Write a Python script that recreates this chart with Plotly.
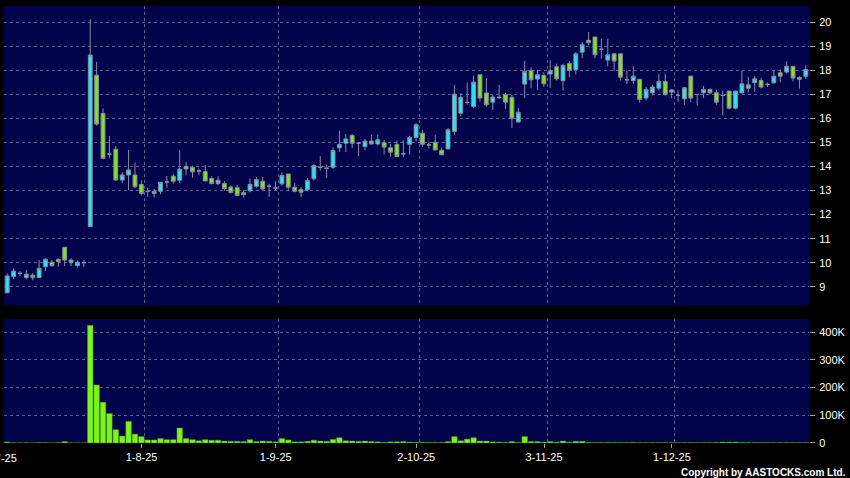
import pandas as pd
import plotly.graph_objects as go

# ---- trading calendar (HK), Jul 2 2025 - Dec 31 2025 ----
holidays = ["2025-10-01", "2025-10-07", "2025-10-29", "2025-12-25", "2025-12-26"]
dates = [d for d in pd.bdate_range("2025-07-02", "2025-12-31") if d.strftime("%Y-%m-%d") not in holidays]

opens = [8.75, 9.43, 9.56, 9.38, 9.48, 9.38, 9.83, 10.02, 10.14, 10.64,
         10.00, 9.88, 10.00, 11.50, 17.80, 16.21, 14.52, 14.72, 13.44, 13.65,
         13.65, 13.25, 12.97, 12.88, 12.97, 13.36, 13.60, 13.43, 14.01, 13.96,
         13.82, 13.79, 13.50, 13.43, 13.29, 13.15, 13.12, 12.83, 12.99, 13.18,
         13.39, 13.18, 13.11, 13.28, 13.69, 13.14, 13.04, 13.04, 13.49, 13.97,
         13.93, 13.97, 14.78, 14.97, 15.29, 14.97, 14.83, 15.06, 14.94, 14.99,
         14.78, 14.92, 14.53, 14.93, 15.21, 15.39, 14.90, 15.01, 14.68, 14.74,
         15.46, 16.22, 16.67, 16.50, 17.82, 17.06, 16.68, 16.88, 16.99, 16.88,
         15.85, 17.43, 17.99, 17.64, 17.79, 17.85, 18.15, 17.57, 18.28, 18.03,
         18.76, 19.25, 19.39, 18.88, 18.43, 18.69, 18.69, 17.61, 17.58, 17.63,
         16.85, 17.07, 17.26, 17.54, 17.10, 16.96, 16.82, 17.76, 17.00, 17.07,
         17.21, 17.07, 16.96, 17.14, 16.43, 17.07, 17.26, 17.49, 17.58, 17.42,
         17.49, 17.90, 17.93, 18.17, 17.63, 17.76]
highs = [9.55, 9.77, 9.65, 9.70, 9.56, 10.11, 10.18, 10.10, 10.18, 10.66,
         10.18, 10.08, 10.10, 20.14, 18.36, 16.42, 15.27, 14.86, 13.77, 14.69,
         14.17, 13.43, 13.12, 13.08, 13.35, 13.60, 13.68, 14.68, 14.19, 14.04,
         13.92, 14.06, 13.60, 13.60, 13.39, 13.22, 13.22, 13.01, 13.50, 13.57,
         13.57, 13.29, 13.39, 13.76, 13.69, 13.31, 13.14, 13.53, 14.11, 14.43,
         14.08, 14.80, 15.50, 15.36, 15.36, 15.01, 15.15, 15.33, 15.33, 15.11,
         14.94, 15.08, 15.08, 15.29, 15.81, 15.53, 15.04, 15.32, 14.79, 15.60,
         17.40, 17.06, 17.50, 17.78, 17.82, 17.68, 16.99, 17.40, 17.06, 16.99,
         16.43, 18.40, 18.13, 18.03, 17.93, 18.42, 18.28, 18.28, 18.38, 18.76,
         19.18, 19.60, 19.39, 19.32, 19.32, 18.69, 18.69, 18.00, 18.18, 17.63,
         17.31, 17.40, 17.86, 17.86, 17.19, 17.17, 17.31, 17.76, 17.00, 17.35,
         17.24, 17.21, 17.17, 17.14, 17.14, 18.00, 17.72, 17.76, 17.68, 17.49,
         18.00, 18.04, 18.38, 18.17, 17.76, 18.21]
lows = [8.75, 9.31, 9.43, 9.31, 9.27, 9.38, 9.66, 9.83, 9.83, 9.86,
        9.86, 9.80, 9.83, 11.50, 15.70, 14.30, 14.34, 13.40, 13.30, 13.02,
        13.10, 12.80, 12.74, 12.71, 12.85, 13.12, 13.29, 13.32, 13.64, 13.54,
        13.64, 13.40, 13.26, 13.22, 12.99, 12.88, 12.78, 12.71, 12.93, 13.12,
        13.01, 12.74, 13.00, 13.21, 12.97, 12.93, 12.72, 12.97, 13.42, 13.83,
        13.53, 13.90, 14.60, 14.60, 14.78, 14.43, 14.69, 14.92, 14.87, 14.50,
        14.39, 14.39, 14.39, 14.49, 15.04, 14.83, 14.76, 14.69, 14.49, 14.69,
        15.32, 16.08, 16.57, 16.43, 16.71, 16.50, 16.36, 16.81, 16.40, 15.60,
        15.85, 16.85, 17.26, 17.19, 17.31, 17.26, 17.58, 17.17, 17.72, 17.83,
        18.51, 19.04, 18.51, 18.49, 18.18, 17.96, 17.58, 17.44, 17.44, 16.65,
        16.75, 16.96, 17.17, 16.96, 16.85, 16.68, 16.57, 16.68, 16.54, 16.85,
        17.00, 16.57, 16.13, 16.38, 16.38, 17.03, 17.10, 17.10, 17.24, 17.31,
        17.44, 17.51, 17.86, 17.54, 17.24, 17.65]
closes = [9.45, 9.65, 9.56, 9.52, 9.38, 9.77, 10.14, 9.88, 10.04, 10.11,
          10.11, 10.02, 10.00, 18.64, 15.77, 14.34, 14.52, 13.44, 13.65, 13.86,
          13.16, 12.88, 12.97, 12.97, 13.35, 13.36, 13.39, 13.89, 13.90, 13.78,
          13.82, 13.40, 13.29, 13.29, 13.08, 12.92, 12.80, 12.92, 13.26, 13.46,
          13.07, 13.18, 13.11, 13.63, 13.14, 12.97, 12.93, 13.42, 14.04, 13.97,
          13.93, 14.67, 14.92, 15.15, 14.97, 14.97, 15.06, 14.94, 15.11, 14.81,
          14.60, 14.42, 14.53, 15.21, 15.74, 14.93, 14.90, 14.69, 14.49, 15.53,
          17.01, 16.88, 16.67, 17.51, 16.85, 16.57, 16.89, 16.88, 16.68, 16.01,
          16.26, 17.96, 17.61, 17.82, 17.44, 17.99, 17.65, 18.21, 18.00, 18.69,
          19.07, 19.15, 18.65, 18.88, 18.65, 18.39, 17.72, 17.61, 17.76, 16.79,
          17.21, 17.31, 17.54, 16.99, 17.19, 16.96, 17.28, 16.85, 17.00, 17.21,
          17.07, 16.68, 16.96, 16.43, 17.14, 17.44, 17.40, 17.65, 17.31, 17.42,
          17.76, 17.76, 18.17, 17.68, 17.71, 18.04]
volumes_k = [3.6, 0.8, 0.5, 0.8, 0.5, 1, 1, 0.5, 1, 5,
             0.5, 0.5, 0.3, 424, 209, 147, 106, 48, 25, 78,
             32, 23, 11, 11, 16, 12, 12, 54, 16, 12,
             8, 12, 10, 10, 7, 6, 6, 5, 12, 5,
             7, 6, 4, 16, 11, 4, 4, 6, 10, 7,
             6, 13, 19, 8, 7, 6, 7, 5, 4, 2,
             4, 4, 5, 3, 2, 2, 1.5, 1.5, 1.5, 5,
             23, 8, 14, 19, 7, 7, 4, 3, 2, 5,
             2, 23, 5, 5, 3, 5, 3, 7, 3, 6,
             6, 2, 1.5, 1.5, 1.5, 1.5, 1, 1, 2, 1,
             1, 1, 1, 1, 1, 1, 1, 1, 1, 1,
             1, 2, 3, 3, 3, 2, 1, 1, 1, 1,
             1, 1, 1, 1, 1, 1]
price_ticks = [9, 10, 11, 12, 13, 14, 15, 16, 17, 18, 19, 20]
vol_ticks = [0, 100000, 200000, 300000, 400000]
vol_tick_text = ["0", "100K", "200K", "300K", "400K"]

idx = list(range(len(dates)))
volumes = [v * 1000 for v in volumes_k]

# month-start positions: grid on the left edge of that day's slot,
# date label / tick mark drawn slightly to the left of the grid line
grid_vals, label_vals, ticktext = [], [], []
for i, d in enumerate(dates):
    if i == 0 or d.month != dates[i - 1].month:
        grid_vals.append(i - 0.5)
        label_vals.append(i - 0.97)
        ticktext.append(f"{d.day}-{d.month}-{d:%y}")

xrange_ = [-0.5, len(dates) - 0.5]

NAVY = "#03034B"
GRID = "#5A5A8E"
WICK = "#8A8CA0"
FONT = "Liberation Sans, Arial, sans-serif"

fig = go.Figure()
fig.add_trace(go.Candlestick(
    x=idx, open=opens, high=highs, low=lows, close=closes,
    increasing=dict(line=dict(color=WICK, width=1), fillcolor="#22E6F2"),
    decreasing=dict(line=dict(color=WICK, width=1), fillcolor="#80E41C"),
    whiskerwidth=0, xaxis="x", yaxis="y", showlegend=False, hoverinfo="skip"))
fig.add_trace(go.Bar(
    x=idx, y=volumes, marker=dict(color="#7CF51E", line=dict(color="#4E9A12", width=0.5)),
    xaxis="x2", yaxis="y2", showlegend=False, hoverinfo="skip"))

ycommon = dict(side="right", showgrid=True, gridcolor=GRID, griddash="3px,3px", gridwidth=1,
               zeroline=False, showline=False, ticks="outside", ticklen=5, tickcolor="#A0A0A0",
               tickfont=dict(color="white", size=11, family=FONT), ticklabelstandoff=2)

# the first month label sits on the left border and is cut by the page edge
first_label_x = (label_vals[0] - xrange_[0]) / (xrange_[1] - xrange_[0])

fig.update_layout(
    width=850, height=478,
    margin=dict(l=4, r=37, t=6, b=35),
    paper_bgcolor="black", plot_bgcolor=NAVY,
    boxgap=0.14, bargap=0.14,
    xaxis=dict(range=xrange_, tickvals=grid_vals, showticklabels=False, ticks="",
               showgrid=True, gridcolor=GRID, griddash="3px,3px", gridwidth=1,
               zeroline=False, showline=False, fixedrange=True,
               domain=[0, 1], anchor="y", rangeslider=dict(visible=False)),
    xaxis2=dict(range=xrange_, tickvals=label_vals, ticktext=ticktext, showticklabels=True,
                showgrid=False, zeroline=False, showline=False, fixedrange=True,
                ticks="outside", ticklen=4, tickcolor="#A0A0A0",
                tickfont=dict(color="white", size=11, family=FONT),
                minor=dict(tickvals=grid_vals, showgrid=True, gridcolor=GRID,
                           griddash="3px,3px", gridwidth=1, ticks=""),
                domain=[0, 1], anchor="y2", matches="x"),
    yaxis=dict(**ycommon, domain=[0.3158, 1.0], range=[8.24, 20.68], tickvals=price_ticks),
    yaxis2=dict(**ycommon, domain=[0.0, 0.2838], range=[0, 447000], tickvals=vol_ticks,
                ticktext=vol_tick_text),
    annotations=[
        dict(text=ticktext[0], xref="paper", yref="paper", x=first_label_x, y=-0.034,
             xanchor="center", yanchor="middle", showarrow=False,
             font=dict(color="white", size=11, family=FONT)),
        dict(text="<b>Copyright by AASTOCKS.com Ltd.</b>", xref="paper", yref="paper",
             x=1.0482, y=-0.068, xanchor="right", yanchor="middle", showarrow=False,
             font=dict(color="white", size=10, family=FONT)),
    ],
)

fig.write_html("out.html", config={"displayModeBar": False},
               post_script="document.body.style.margin='0';document.body.style.background='black';")
